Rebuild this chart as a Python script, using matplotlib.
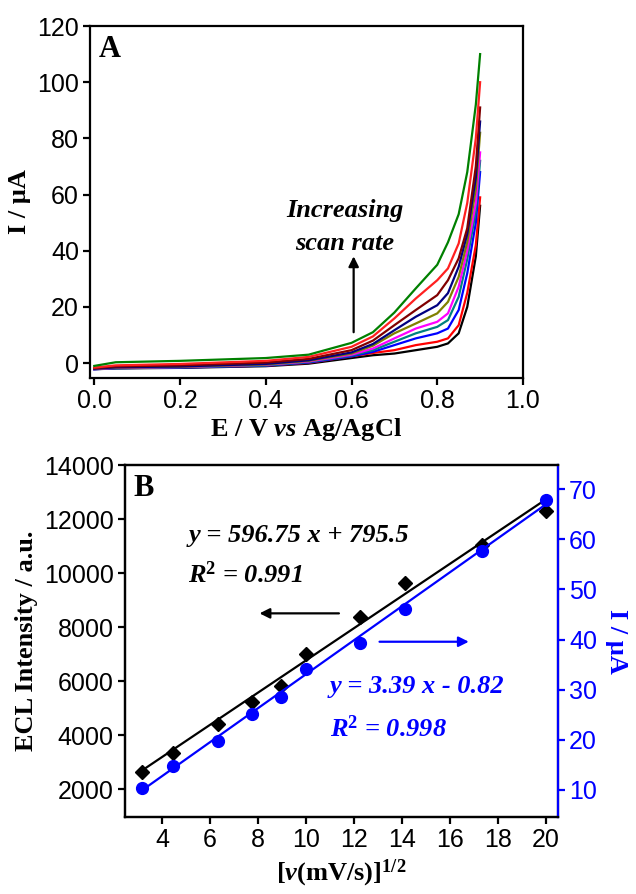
import numpy as np
import matplotlib
matplotlib.use("Agg")
from matplotlib import pyplot as plt

plt.rcParams['font.family'] = ['Liberation Sans', 'DejaVu Sans']
plt.rcParams['mathtext.fontset'] = 'custom'
plt.rcParams['mathtext.rm'] = 'Liberation Serif:bold'
plt.rcParams['mathtext.bf'] = 'Liberation Serif:bold'
plt.rcParams['mathtext.it'] = 'Liberation Serif:italic:bold'

SERIF = ['Liberation Serif', 'DejaVu Serif']

# ---- panel A: linear sweeps at increasing scan rate ----
E = [0.0, 0.05, 0.2, 0.4, 0.5, 0.6, 0.65, 0.7, 0.75, 0.8, 0.825, 0.85, 0.87, 0.89, 0.9]
cv_black   = [-2.2, -1.9, -1.7, -1.1, -0.2, 1.8, 2.8, 3.4, 4.6, 5.8, 7.0, 10.6, 20, 38, 56]
cv_red1    = [-2.0, -1.7, -1.5, -0.9, 0.1, 2.4, 3.6, 4.6, 6.4, 7.6, 8.8, 13.5, 25, 42, 59]
cv_blue    = [-2.2, -1.8, -1.6, -0.9, 0.2, 2.4, 4.0, 6.4, 8.8, 10.6, 12.3, 18.9, 32, 50, 68]
cv_teal    = [-2.1, -1.8, -1.5, -0.8, 0.4, 2.7, 4.6, 7.6, 10.6, 12.9, 15.3, 23.6, 37, 54, 72]
cv_magenta = [-2.1, -1.7, -1.4, -0.6, 0.6, 3.0, 5.2, 8.8, 12.3, 14.7, 17.7, 27.2, 40, 57, 75]
cv_olive   = [-2.0, -1.6, -1.3, -0.5, 0.8, 3.4, 6.2, 10.6, 14.1, 17.7, 21.8, 30.7, 43, 62, 82]
cv_navy    = [-2.0, -1.5, -1.2, -0.3, 1.0, 3.8, 6.8, 11.7, 16.5, 20.6, 24.9, 34.3, 46, 66, 86]
cv_maroon  = [-1.8, -1.2, -0.8, 0.2, 1.5, 4.6, 8.0, 13.5, 18.9, 24.2, 29.5, 37.3, 48, 70, 91]
cv_red2    = [-1.6, -0.8, -0.3, 0.8, 2.2, 5.8, 9.5, 15.9, 23.0, 29.5, 33.7, 42.6, 57, 80, 100]
cv_green   = [-1.0, 0.3, 0.8, 1.8, 3.0, 7.2, 11.0, 18.0, 26.6, 35.0, 43.0, 53.0, 68, 92, 110]

curves = [
    (cv_black, 'black'), (cv_red1, '#ff0000'), (cv_blue, '#0000ff'),
    (cv_teal, '#008080'), (cv_magenta, '#ff00ff'), (cv_olive, '#808000'),
    (cv_navy, '#000080'), (cv_maroon, '#800000'), (cv_red2, '#ff2020'),
    (cv_green, '#008000'),
]

# ---- panel B: ECL and current vs sqrt(scan rate) ----
sqrt_v = [3.16, 4.47, 6.32, 7.75, 8.94, 10.0, 12.25, 14.14, 17.32, 20.0]
ecl    = [2640, 3344, 4407, 5233, 5826, 6989, 8381, 9641, 11037, 12307]
peak_i = [10.3, 14.7, 19.8, 25.2, 28.6, 34.1, 39.3, 46.1, 57.6, 67.9]
ecl_fit = (596.75, 795.5)
cur_fit = (3.39, -0.82)

fig = plt.figure(figsize=(6.36, 8.94), dpi=100)

def style(ax):
    for s in ax.spines.values():
        s.set_linewidth(1.6)
    ax.tick_params(direction='out', length=5, width=1.6, labelsize=18,
                   top=False, right=False, pad=3)

# panel A
axA = fig.add_axes([0.1415, 0.5772, 0.6808, 0.3937])
for vals, c in curves:
    axA.plot(E, vals, color=c, lw=1.6)
axA.set_xlim(-0.01, 1.0)
axA.set_ylim(-5.3, 120)
axA.set_xticks(np.arange(0, 1.01, 0.2))
axA.set_yticks(np.arange(0, 121, 20))
style(axA)
axA.set_ylabel('I / μA', family=SERIF, weight='bold', fontsize=19, labelpad=4)
axA.set_xlabel(r'E / V $\mathit{vs}$ Ag/AgCl', family=SERIF, weight='bold',
               fontsize=19, labelpad=2)
axA.text(0.02, 0.975, 'A', transform=axA.transAxes, family=SERIF,
         weight='bold', fontsize=22, va='top', ha='left')
axA.text(0.585, 54.4, 'Increasing', family=SERIF, weight='bold',
         style='italic', fontsize=19, ha='center', va='center')
axA.text(0.585, 42.7, 'scan rate', family=SERIF, weight='bold',
         style='italic', fontsize=19, ha='center', va='center')
axA.annotate('', xy=(0.605, 39), xytext=(0.605, 10),
             arrowprops=dict(arrowstyle='-|>', color='black', lw=1.6,
                             mutation_scale=15))

# panel B
axB = fig.add_axes([0.1965, 0.0861, 0.6808, 0.3937])
xs = np.array([sqrt_v[0], sqrt_v[-1]])
axB.plot(xs, ecl_fit[0] * xs + ecl_fit[1], color='black', lw=1.6)
axB.plot(sqrt_v, ecl, 'D', color='black', ms=7)
axB.set_xlim(2.46, 20.5)
axB.set_ylim(963, 14000)
axB.set_xticks(np.arange(4, 21, 2))
axB.set_yticks(np.arange(2000, 14001, 2000))
style(axB)
axB.set_ylabel('ECL Intensity / a.u.', family=SERIF, weight='bold',
               fontsize=19, labelpad=4)
axB.set_xlabel(r'[$\mathit{v}$(mV/s)]$^{\mathrm{1/2}}$', family=SERIF,
               weight='bold', fontsize=19, labelpad=4)
axB.text(0.02, 0.975, 'B', transform=axB.transAxes, family=SERIF,
         weight='bold', fontsize=22, va='top', ha='left')

axR = axB.twinx()
axR.plot(xs, cur_fit[0] * xs + cur_fit[1], color='#0000ff', lw=1.6)
axR.plot(sqrt_v, peak_i, 'o', color='#0000ff', ms=8.5)
axR.set_ylim(4.6, 74.8)
axR.set_yticks(np.arange(10, 71, 10))
for s in axR.spines.values():
    s.set_linewidth(1.6)
axR.spines['right'].set_color('#0000ff')
axR.tick_params(axis='y', direction='out', length=5, width=1.6, labelsize=18,
                colors='#0000ff', pad=3)
axR.set_ylabel('I / μA', family=SERIF, weight='bold', fontsize=19,
               color='#0000ff', rotation=270, labelpad=22)

axB.text(5.1, 11407, 'y = 596.75 x + 795.5', family=SERIF, weight='bold',
         style='italic', fontsize=19, va='center', ha='left')
axB.text(5.1, 9926, r'R$^{2}$ = 0.991', family=SERIF, weight='bold',
         style='italic', fontsize=19, va='center', ha='left')
axB.annotate('', xy=(7.95, 8507), xytext=(11.49, 8507),
             arrowprops=dict(arrowstyle='-|>', color='black', lw=1.6,
                             mutation_scale=15))
axB.annotate('', xy=(16.9, 7456), xytext=(12.95, 7456),
             arrowprops=dict(arrowstyle='-|>', color='#0000ff', lw=1.6,
                             mutation_scale=15))
axB.text(11.0, 5789, 'y = 3.39 x - 0.82', family=SERIF, weight='bold',
         style='italic', fontsize=19, va='center', ha='left', color='#0000ff')
axB.text(11.0, 4248, r'R$^{2}$ = 0.998', family=SERIF, weight='bold',
         style='italic', fontsize=19, va='center', ha='left', color='#0000ff')

fig.savefig('out.png', dpi=100)
